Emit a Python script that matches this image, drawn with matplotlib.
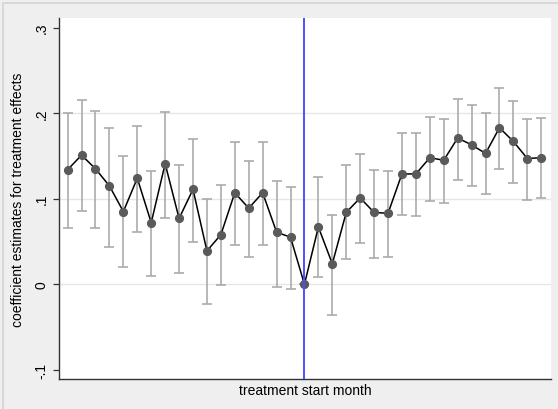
import matplotlib

matplotlib.use("Agg")

import matplotlib.pyplot as plt
import numpy as np
from matplotlib.patches import Rectangle

# months relative to treatment start
months = np.arange(-17, 18)

coef = [
    0.134, 0.151, 0.135, 0.115, 0.085, 0.124, 0.072, 0.141, 0.077,
    0.111, 0.039, 0.058, 0.107, 0.089, 0.107, 0.061, 0.055,
    0.000,
    0.067, 0.024, 0.084, 0.101, 0.084, 0.083, 0.129, 0.129, 0.148,
    0.145, 0.171, 0.163, 0.153, 0.183, 0.167, 0.147, 0.148,
]
ci_upper = [
    0.200, 0.215, 0.203, 0.183, 0.150, 0.185, 0.133, 0.201, 0.139,
    0.170, 0.100, 0.116, 0.166, 0.144, 0.166, 0.121, 0.114,
    0.000,
    0.126, 0.081, 0.139, 0.152, 0.134, 0.132, 0.177, 0.177, 0.196,
    0.193, 0.217, 0.210, 0.200, 0.229, 0.214, 0.193, 0.194,
]
ci_lower = [
    0.066, 0.086, 0.066, 0.044, 0.020, 0.061, 0.010, 0.078, 0.013,
    0.050, -0.023, -0.001, 0.046, 0.032, 0.046, -0.003, -0.006,
    0.000,
    0.008, -0.036, 0.029, 0.048, 0.031, 0.032, 0.081, 0.080, 0.097,
    0.095, 0.122, 0.115, 0.105, 0.135, 0.119, 0.098, 0.101,
]
y_ticks = [-0.1, 0, 0.1, 0.2, 0.3]
y_tick_labels = ["-.1", "0", ".1", ".2", ".3"]
grid_levels = [0, 0.1, 0.2]

plt.rcParams["font.family"] = ["Liberation Sans", "DejaVu Sans"]

fig = plt.figure(figsize=(5.58, 4.10), dpi=100)
fig.patch.set_facecolor("#efefef")
fig.patches.append(
    Rectangle((3 / 558, -0.1), 1.2, (406 / 410) + 0.1, transform=fig.transFigure,
              fill=False, edgecolor="#d4d4d4", linewidth=1.2)
)

ax = fig.add_axes([59 / 558, 30 / 410, 492 / 558, 361 / 410])
ax.set_facecolor("white")

for level in grid_levels:
    ax.axhline(level, color="#e6e6e6", linewidth=1.0, zorder=0)

coef_arr = np.array(coef)
yerr = np.vstack([coef_arr - np.array(ci_lower), np.array(ci_upper) - coef_arr])
ax.errorbar(months, coef_arr, yerr=yerr, fmt="none", ecolor="#ababab",
            elinewidth=1.2, capsize=3.3, capthick=1.2, zorder=2)
ax.plot(months, coef_arr, color="black", linewidth=1.1, zorder=3)
ax.plot(months, coef_arr, linestyle="none", marker="o", markersize=5.6,
        color="#5a5a5a", zorder=4)
ax.axvline(0, color="#4f4fff", linewidth=1.4, zorder=5)

ax.set_xlim(-17.62, 17.7)
ax.set_ylim(-0.1107, 0.3113)
ax.set_xticks([])
ax.set_yticks(y_ticks)
ax.set_yticklabels(y_tick_labels, rotation=90, va="center", fontsize=10)
ax.tick_params(axis="y", length=4.5, width=0.9, color="#333333", pad=3)

for side in ["top", "right"]:
    ax.spines[side].set_visible(False)
for side in ["left", "bottom"]:
    ax.spines[side].set_color("#333333")
    ax.spines[side].set_linewidth(1.0)

ax.set_ylabel("coefficient estimates for treatment effects", fontsize=10, labelpad=7)
ax.set_xlabel("treatment start month", fontsize=10, labelpad=3)

fig.savefig("out.png", dpi=100, facecolor=fig.get_facecolor())
